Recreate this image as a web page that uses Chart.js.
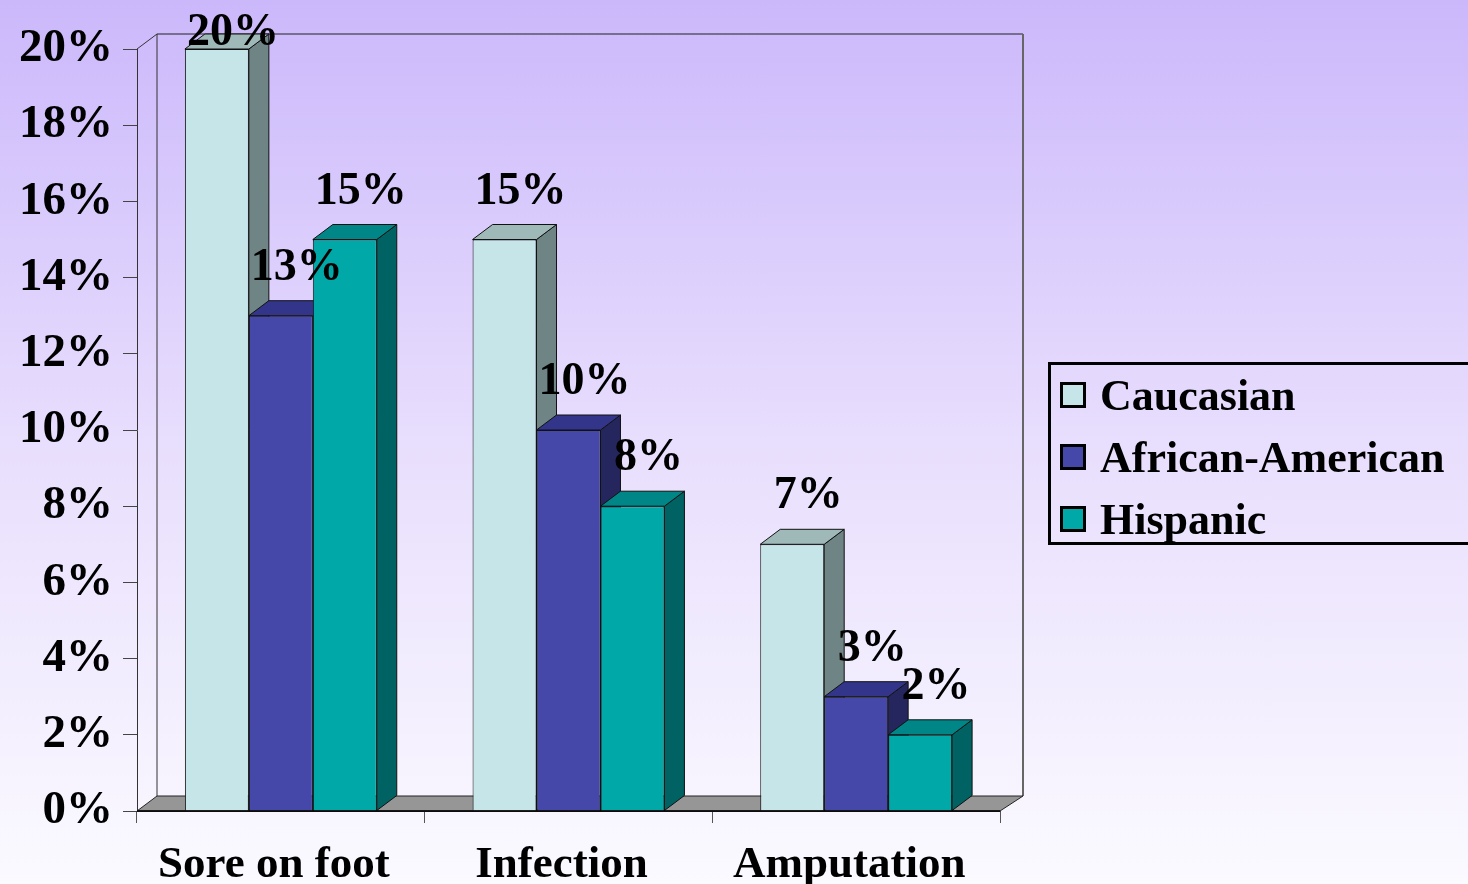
<!DOCTYPE html>
<html>
<head>
<meta charset="utf-8">
<script src="https://cdn.jsdelivr.net/npm/chart.js@4.4.0/dist/chart.umd.min.js"></script>
<style>
  html, body { margin: 0; padding: 0; }
  body {
    width: 1468px; height: 884px; overflow: hidden; position: relative;
    background: linear-gradient(to bottom, #cbb8fb 0%, #e8defd 50%, #fbfaff 100%);
    font-family: 'Liberation Serif', 'Times New Roman', serif;
  }
  #wrap { position: absolute; left: 0; top: 0; width: 1468px; height: 884px; }
  #legend {
    position: absolute; left: 1048px; top: 362px; width: 440px; height: 177px;
    border: 3px solid #000; box-sizing: content-box;
  }
  .item { display: flex; align-items: center; height: 62px; font-weight: bold; font-size: 44px; color: #000; }
  .item:first-child { margin-top: -1px; }
  .sw { width: 20px; height: 20px; border: 3px solid #000; margin-left: 9px; margin-right: 14px; }
</style>
</head>
<body>
<div id="wrap"><canvas id="chart"></canvas></div>
<div id="legend"></div>
<script>
// Data
const categories = ['Sore on foot', 'Infection', 'Amputation'];
const caucasian = [20, 15, 7];
const africanAmerican = [13, 10, 3];
const hispanic = [15, 8, 2];
const yTicks = [0, 2, 4, 6, 8, 10, 12, 14, 16, 18, 20];

// colours: front, side, top
const seriesColors = [
    { front: '#c6e5e8', side: '#6f8484', top: '#9fb8b8' },
    { front: '#4548a8', side: '#26265e', top: '#33358a' },
    { front: '#00a8a8', side: '#006262', top: '#008686' }
];

const DX = 20, DY = -15;
const FONT = "'Liberation Serif', 'Times New Roman', serif";

// 3D walls, floor and bar side/top faces
const depthPlugin = {
    id: 'depth',
    beforeDatasetsDraw(chart) {
        const ctx = chart.ctx;
        const a = chart.chartArea;
        ctx.save();
        ctx.lineWidth = 1;

        // left wall
        ctx.strokeStyle = '#333';
        ctx.beginPath();
        ctx.moveTo(a.left, a.top);
        ctx.lineTo(a.left + DX, a.top + DY);
        ctx.lineTo(a.left + DX, a.bottom + DY);
        ctx.stroke();

        // back wall
        ctx.strokeStyle = '#222';
        ctx.beginPath();
        ctx.moveTo(a.left + DX, a.top + DY);
        ctx.lineTo(a.right + DX + 3, a.top + DY);
        ctx.stroke();
        ctx.strokeStyle = '#666';
        ctx.lineWidth = 2;
        ctx.beginPath();
        ctx.moveTo(a.right + DX + 3, a.top + DY);
        ctx.lineTo(a.right + DX + 3, a.bottom + DY);
        ctx.stroke();
        ctx.lineWidth = 1;

        // floor
        ctx.fillStyle = '#969696';
        ctx.strokeStyle = '#222';
        ctx.beginPath();
        ctx.moveTo(a.left, a.bottom);
        ctx.lineTo(a.left + DX, a.bottom + DY);
        ctx.lineTo(a.right + DX + 3, a.bottom + DY);
        ctx.lineTo(a.right, a.bottom);
        ctx.closePath();
        ctx.fill();
        ctx.stroke();

        // side and top faces, left to right
        const metas = chart.data.datasets.map((d, i) => chart.getDatasetMeta(i));
        for (let c = 0; c < categories.length; c++) {
            metas.forEach((meta, s) => {
                const bar = meta.data[c];
                const p = bar.getProps(['x', 'y', 'base', 'width'], true);
                const l = p.x - p.width / 2, r = p.x + p.width / 2;
                ctx.strokeStyle = '#111';
                // side
                ctx.fillStyle = seriesColors[s].side;
                ctx.beginPath();
                ctx.moveTo(r, p.y);
                ctx.lineTo(r + DX, p.y + DY);
                ctx.lineTo(r + DX, p.base + DY);
                ctx.lineTo(r, p.base);
                ctx.closePath();
                ctx.fill();
                ctx.stroke();
                // top
                ctx.fillStyle = seriesColors[s].top;
                ctx.beginPath();
                ctx.moveTo(l, p.y);
                ctx.lineTo(l + DX, p.y + DY);
                ctx.lineTo(r + DX, p.y + DY);
                ctx.lineTo(r, p.y);
                ctx.closePath();
                ctx.fill();
                ctx.stroke();
            });
        }
        ctx.restore();
    },
    afterDatasetsDraw(chart) {
        const ctx = chart.ctx;
        const a = chart.chartArea;
        ctx.save();
        // front floor edge
        ctx.strokeStyle = '#000';
        ctx.lineWidth = 1.5;
        ctx.beginPath();
        ctx.moveTo(a.left, a.bottom);
        ctx.lineTo(a.right, a.bottom);
        ctx.stroke();

        // value labels
        ctx.fillStyle = '#000';
        ctx.font = 'bold 46px ' + FONT;
        ctx.textAlign = 'center';
        ctx.textBaseline = 'alphabetic';
        chart.data.datasets.forEach((ds, i) => {
            chart.getDatasetMeta(i).data.forEach((bar, j) => {
                const p = bar.getProps(['x', 'y'], true);
                const y = Math.max(p.y - 36, 45);
                ctx.fillText(ds.data[j] + '%', p.x + 16, y);
            });
        });
        ctx.restore();
    }
};

const datasets = [
    { label: 'Caucasian', data: caucasian },
    { label: 'African-American', data: africanAmerican },
    { label: 'Hispanic', data: hispanic }
].map((d, i) => Object.assign(d, {
    backgroundColor: seriesColors[i].front,
    borderColor: '#111',
    borderWidth: 1,
    categoryPercentage: 0.667,
    barPercentage: 1.0
}));

const chart = new Chart(document.getElementById('chart'), {
    type: 'bar',
    data: { labels: categories, datasets: datasets },
    options: {
        responsive: true,
        maintainAspectRatio: false,
        animation: false,
        layout: { padding: { top: 49, right: 468, bottom: 0, left: 0 } },
        plugins: {
            legend: { display: false },
            tooltip: { enabled: false }
        },
        scales: {
            x: {
                afterFit: function(scale) { scale.height = 73; },
                grid: {
                    display: true,
                    offset: true,
                    drawOnChartArea: false,
                    tickLength: 12,
                    color: '#555'
                },
                border: { display: true, color: '#444' },
                ticks: {
                    color: '#000',
                    padding: 15,
                    labelOffset: -7,
                    font: { family: FONT, size: 45, weight: 'bold' }
                }
            },
            y: {
                min: 0,
                max: 20,
                afterFit: function(scale) { scale.width = 137; },
                afterBuildTicks: function(scale) {
                    scale.ticks = yTicks.map(v => ({ value: v }));
                },
                grid: {
                    display: true,
                    drawOnChartArea: false,
                    tickLength: 14,
                    color: '#444'
                },
                border: { display: true, color: '#333' },
                ticks: {
                    color: '#000',
                    padding: 10,
                    font: { family: FONT, size: 47, weight: 'bold' },
                    callback: function(value) { return value + '%'; }
                }
            }
        }
    },
    plugins: [depthPlugin]
});

// Legend built from the datasets
const legendDiv = document.getElementById('legend');
chart.data.datasets.forEach(ds => {
    const row = document.createElement('div');
    row.className = 'item';
    const sw = document.createElement('span');
    sw.className = 'sw';
    sw.style.background = ds.backgroundColor;
    const txt = document.createElement('span');
    txt.textContent = ds.label;
    row.appendChild(sw);
    row.appendChild(txt);
    legendDiv.appendChild(row);
});
</script>
</body>
</html>
